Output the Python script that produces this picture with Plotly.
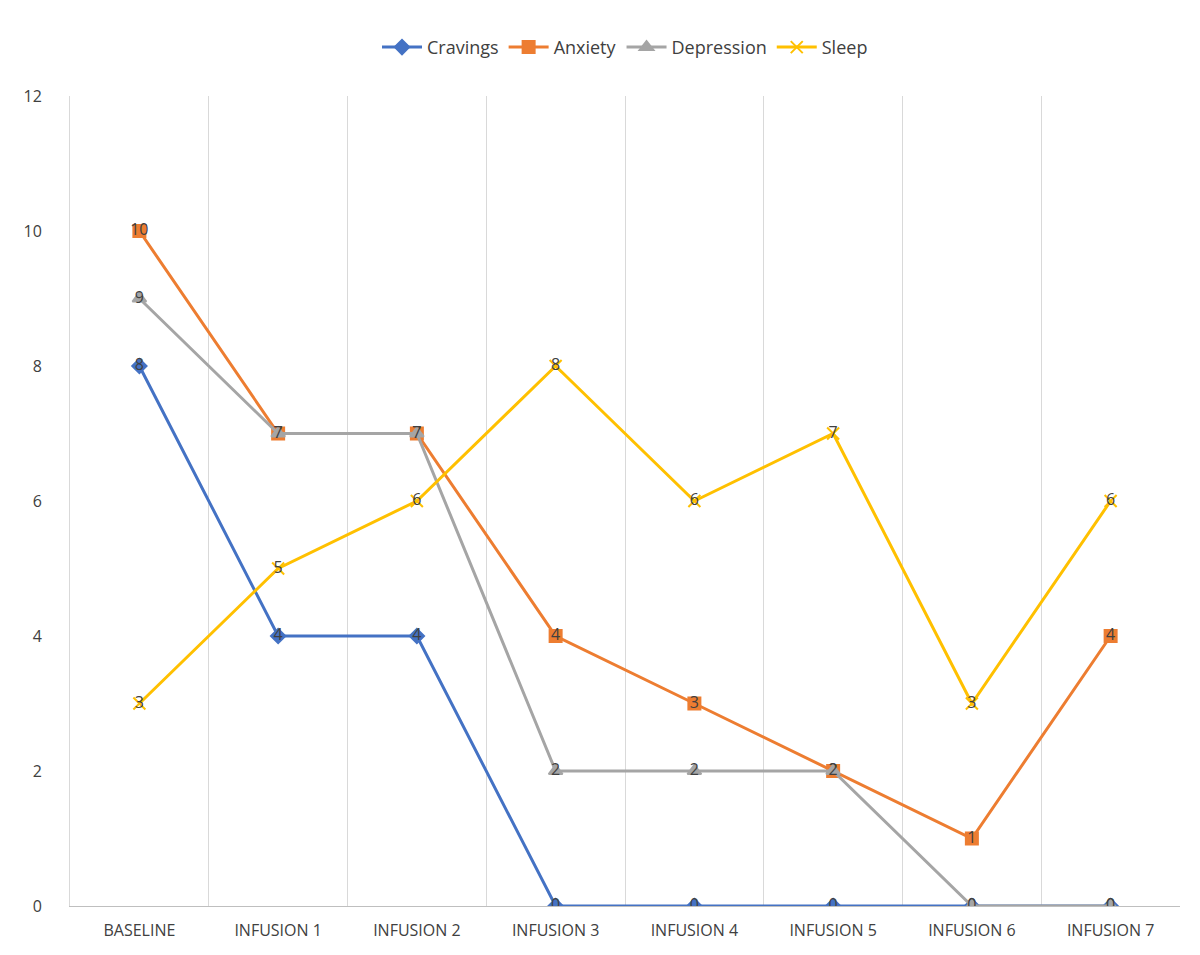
import plotly.graph_objects as go

categories = ["BASELINE", "INFUSION 1", "INFUSION 2", "INFUSION 3", "INFUSION 4", "INFUSION 5", "INFUSION 6", "INFUSION 7"]
cravings = [8, 4, 4, 0, 0, 0, 0, 0]
anxiety = [10, 7, 7, 4, 3, 2, 1, 4]
depression = [9, 7, 7, 2, 2, 2, 0, 0]
sleep = [3, 5, 6, 8, 6, 7, 3, 6]

series = [
    ("Cravings", cravings, "#4472C4", "diamond", 11),
    ("Anxiety", anxiety, "#ED7D31", "square", 12),
    ("Depression", depression, "#A5A5A5", "triangle-up", 12),
    ("Sleep", sleep, "#FFC000", "x-thin", 12),
]

fig = go.Figure()
for name, vals, color, sym, sz in series:
    fig.add_trace(go.Scatter(
        x=categories, y=vals, name=name, mode="lines+markers+text",
        line=dict(color=color, width=3),
        marker=dict(symbol=sym, size=sz, color=color, line=dict(color=color, width=2)),
        text=[str(v) for v in vals], textposition="middle center",
        textfont=dict(family="Open Sans, Arial", size=16, color="#404040"),
    ))

fig.update_layout(
    width=1200, height=955,
    paper_bgcolor="white", plot_bgcolor="white",
    margin=dict(l=62, r=28, t=88, b=57),
    font=dict(family="Open Sans, Arial", color="#404040"),
    legend=dict(orientation="h", x=0.5, xanchor="center", y=1.06, yanchor="middle",
                font=dict(size=18, color="#404040"), itemwidth=40),
    xaxis=dict(type="category", tickson="boundaries", showgrid=True, gridcolor="#D9D9D9",
               gridwidth=1, showline=True, linecolor="#BFBFBF", ticks="", automargin=False,
               tickfont=dict(size=16, color="#404040"), range=[-0.5, 7.5],
               ticklabelstandoff=10),
    yaxis=dict(range=[0, 12], dtick=2, showgrid=False, zeroline=False, showline=True,
               linecolor="#D9D9D9", automargin=False,
               tickfont=dict(size=16, color="#404040"), ticklabelstandoff=24),
)
fig.write_html("out.html")
